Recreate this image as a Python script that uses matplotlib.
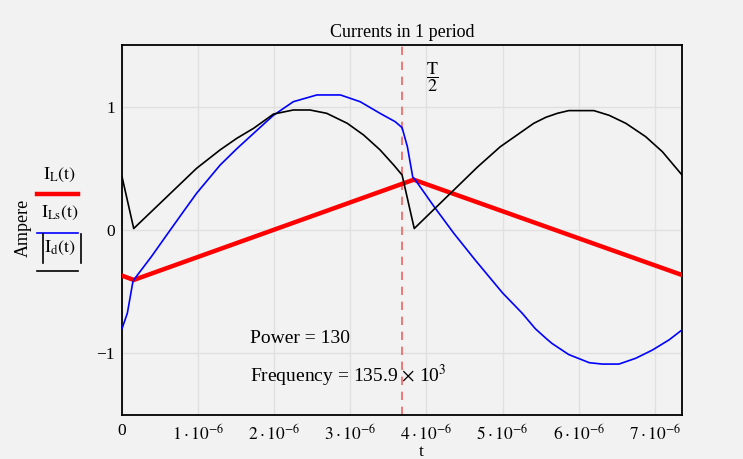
import matplotlib
matplotlib.use("Agg")
import matplotlib.pyplot as plt
from matplotlib.lines import Line2D
import numpy as np

plt.rcParams['font.family'] = ['Liberation Serif', 'DejaVu Serif']
plt.rcParams['mathtext.fontset'] = 'stix'

# time in microseconds, currents in ampere
t_L = [0.0, 0.154, 3.833, 7.358]
i_L = [-0.37, -0.405, 0.408, -0.365]

t_Ls = [0.0, 0.07, 0.14, 0.154, 0.386, 0.588, 0.825, 0.983, 1.29, 1.51, 1.73,
        1.90, 1.99, 2.25, 2.56, 2.87, 3.13, 3.39, 3.59, 3.68, 3.75, 3.82,
        3.855, 4.10, 4.36, 4.64, 5.0, 5.26, 5.43, 5.57, 5.65, 5.87, 6.14,
        6.31, 6.53, 6.75, 6.97, 7.19, 7.358]
i_Ls = [-0.80, -0.675, -0.43, -0.405, -0.216, -0.04, 0.165, 0.30, 0.527, 0.66,
        0.784, 0.88, 0.93, 1.04, 1.095, 1.095, 1.04, 0.946, 0.878, 0.83,
        0.675, 0.43, 0.405, 0.19, -0.027, -0.243, -0.51, -0.676, -0.80,
        -0.878, -0.92, -1.01, -1.076, -1.087, -1.087, -1.04, -0.973, -0.89,
        -0.81]

t_d = [0.0, 0.154, 0.98, 1.29, 1.51, 1.73, 1.90, 1.99, 2.25, 2.47, 2.69,
       2.96, 3.175, 3.39, 3.57, 3.68, 3.84, 4.32, 4.67, 4.97, 5.19, 5.41,
       5.57, 5.72, 5.87, 6.2, 6.4, 6.62, 6.88, 7.1, 7.358]
i_d = [0.433, 0.012, 0.50, 0.65, 0.744, 0.825, 0.90, 0.94, 0.973, 0.973,
       0.946, 0.865, 0.77, 0.65, 0.527, 0.446, 0.012, 0.30, 0.51, 0.675,
       0.77, 0.865, 0.914, 0.946, 0.968, 0.968, 0.93, 0.865, 0.757, 0.635,
       0.446]

period_us = 7.358
power = 130
freq_k = 135.9

x_ticks = [0, 1, 2, 3, 4, 5, 6, 7]
y_ticks = [-1, 0, 1]

us = 1e-6
bg = '#f2f2f2'
W, H = 743, 459

fig = plt.figure(figsize=(W / 100, H / 100), dpi=100, facecolor=bg)
ax = fig.add_axes([122 / W, 1 - 415 / H, 560 / W, 370 / H], facecolor=bg)

ax.plot(np.array(t_L) * us, i_L, color='#ff0000', lw=3.2, zorder=3)
ax.plot(np.array(t_Ls) * us, i_Ls, color='#0000ff', lw=1.2, zorder=4)
ax.plot(np.array(t_d) * us, i_d, color='black', lw=1.2, zorder=4)

ax.axvline(period_us / 2 * us, color='#f06262', lw=1.2, ls=(0, (5, 4)), zorder=2)

ax.set_xlim(0, period_us * us)
ax.set_ylim(-1.5, 1.5)
ax.set_xticks([k * us for k in x_ticks])
ax.set_xticklabels(['0'] + [rf'${k}\cdot10^{{-6}}$' for k in x_ticks[1:]])
ax.set_yticks(y_ticks)
ax.set_yticklabels(['\u22121', '0', '1'])
ax.tick_params(length=0, labelsize=12.5)
ax.tick_params(axis='x', pad=6)
ax.tick_params(axis='y', pad=5)
ax.grid(True, color='#e0e0e0', lw=1.0)
ax.set_axisbelow(True)
for s in ax.spines.values():
    s.set_linewidth(1.3)
    s.set_color('black')

ax.set_title('Currents in 1 period', fontsize=13, pad=6)
fig.text(421 / W, 1 - 452 / H, 't', ha='center', va='center', fontsize=12.5)

ax.text(4.08 * us, 1.24, r'$\dfrac{\mathrm{T}}{2}$', ha='center', va='center', fontsize=13)
ax.text(1.68 * us, -0.876, f'Power = {power}', ha='left', va='center', fontsize=14)
ax.text(1.68 * us, -1.18, rf'Frequency = {freq_k} $\times$ 10$^{{3}}$', ha='left',
        va='center', fontsize=14)

# legend drawn in the left margin
fig.text(23 / W, 1 - 228 / H, 'Ampere', rotation=90, ha='center', va='center', fontsize=13)
labels = [r'$\mathrm{I_{L}(t)}$', r'$\mathrm{I_{Ls}(t)}$', r'$\mathrm{I_{d}(t)}$']
label_y = [175, 213, 248]
line_y = [194, 232.5, 270.5]
colors = ['#ff0000', '#0000ff', 'black']
widths = [3.2, 1.2, 1.2]
for lab, ly, ny, c, w in zip(labels, label_y, line_y, colors, widths):
    fig.text(60 / W, 1 - ly / H, lab, ha='center', va='center', fontsize=13)
    fig.add_artist(Line2D([37 / W, 78 / W], [1 - ny / H, 1 - ny / H],
                          transform=fig.transFigure, color=c, lw=w))
# tall absolute-value bars around I_d(t)
for bx in (43, 81):
    fig.add_artist(Line2D([bx / W, bx / W], [1 - 234 / H, 1 - 263 / H],
                          transform=fig.transFigure, color='black', lw=1.2))

fig.savefig('out.png', dpi=100, facecolor=bg)
